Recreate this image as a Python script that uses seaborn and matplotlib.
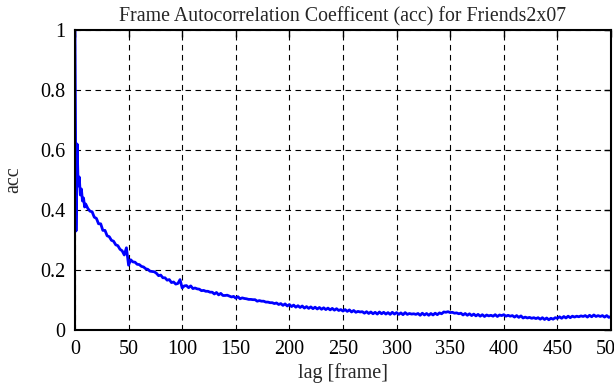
import matplotlib
matplotlib.use("Agg")
import matplotlib.pyplot as plt
import seaborn as sns
import pandas as pd

# lag in frames: every frame up to 10, then every second frame
lag = list(range(0, 11)) + list(range(12, 501, 2))

# autocorrelation values
acc_head = [1.0, 0.33, 0.62, 0.48, 0.51, 0.45, 0.47, 0.43, 0.44, 0.41, 0.42]
acc_tail = [
    0.405, 0.396, 0.394, 0.376, 0.372, 0.354, 0.354, 0.332, 0.332, 0.314,
    0.311, 0.299, 0.296, 0.284, 0.281, 0.269, 0.264, 0.250, 0.274, 0.216,
    0.234, 0.227, 0.226, 0.219, 0.218, 0.212, 0.210, 0.204, 0.202, 0.196,
    0.195, 0.194, 0.189, 0.181, 0.183, 0.174, 0.174, 0.166, 0.168, 0.158,
    0.160, 0.153, 0.155, 0.168, 0.140, 0.147, 0.148, 0.141, 0.147, 0.138,
    0.140, 0.137, 0.136, 0.131, 0.132, 0.129, 0.129, 0.126, 0.126, 0.120,
    0.125, 0.117, 0.122, 0.115, 0.115, 0.116, 0.113, 0.110, 0.112, 0.106,
    0.111, 0.104, 0.107, 0.105, 0.104, 0.102, 0.102, 0.101, 0.101, 0.096,
    0.098, 0.096, 0.096, 0.093, 0.093, 0.091, 0.091, 0.088, 0.090, 0.085,
    0.088, 0.082, 0.087, 0.080, 0.085, 0.078, 0.083, 0.076, 0.081, 0.075,
    0.080, 0.073, 0.078, 0.072, 0.077, 0.071, 0.076, 0.070, 0.075, 0.069,
    0.074, 0.068, 0.073, 0.067, 0.072, 0.066, 0.071, 0.065, 0.068, 0.063,
    0.068, 0.062, 0.067, 0.060, 0.065, 0.059, 0.062, 0.060, 0.061, 0.056,
    0.061, 0.055, 0.060, 0.054, 0.059, 0.053, 0.060, 0.054, 0.059, 0.053,
    0.058, 0.052, 0.059, 0.053, 0.058, 0.052, 0.057, 0.051, 0.058, 0.052,
    0.055, 0.053, 0.054, 0.052, 0.055, 0.049, 0.056, 0.050, 0.055, 0.049,
    0.055, 0.050, 0.056, 0.051, 0.057, 0.054, 0.060, 0.059, 0.061, 0.058,
    0.059, 0.056, 0.057, 0.054, 0.056, 0.050, 0.055, 0.049, 0.054, 0.048,
    0.053, 0.047, 0.052, 0.046, 0.051, 0.045, 0.050, 0.047, 0.049, 0.046,
    0.051, 0.045, 0.050, 0.048, 0.051, 0.046, 0.049, 0.046, 0.048, 0.043,
    0.048, 0.042, 0.047, 0.040, 0.043, 0.040, 0.042, 0.039, 0.041, 0.038,
    0.041, 0.036, 0.041, 0.035, 0.040, 0.034, 0.039, 0.036, 0.041, 0.039,
    0.044, 0.039, 0.045, 0.040, 0.046, 0.041, 0.046, 0.043, 0.046, 0.044,
    0.047, 0.045, 0.048, 0.043, 0.049, 0.044, 0.050, 0.045, 0.048, 0.045,
    0.048, 0.043, 0.048, 0.042, 0.045,
]
acc = acc_head + acc_tail

x_ticks = [0, 50, 100, 150, 200, 250, 300, 350, 400, 450, 500]
y_ticks = [0, 0.2, 0.4, 0.6, 0.8, 1]
y_labels = ["0", "0.2", "0.4", "0.6", "0.8", "1"]

df = pd.DataFrame({"lag": lag, "acc": acc})

sns.set_theme(style="white")
plt.rcParams["font.family"] = ["Liberation Serif", "DejaVu Serif"]

fig = plt.figure(figsize=(6.14, 3.85), dpi=100)
ax = fig.add_axes([0.1221, 0.1429, 0.8730, 0.7792])

sns.lineplot(data=df, x="lag", y="acc", color="#0000ff", linewidth=2.0,
             estimator=None, ax=ax)

ax.set_xlim(0, 500)
ax.set_ylim(0, 1)
ax.set_xticks(x_ticks)
ax.set_yticks(y_ticks)
ax.set_yticklabels(y_labels)
ax.grid(True, color="black", linestyle=(0, (5, 4)), linewidth=0.8)
ax.tick_params(direction="in", length=5, width=1, top=True, right=True,
               labelsize=14.5, colors="black", pad=7)
for s in ax.spines.values():
    s.set_color("black")
    s.set_linewidth(1.5)

ax.set_title("Frame Autocorrelation Coefficent (acc) for Friends2x07",
             fontsize=14.3, pad=6)
ax.set_xlabel("lag [frame]", fontsize=14.5, labelpad=3)
ax.set_ylabel("acc", fontsize=14.5, labelpad=12)

fig.savefig("out.png", dpi=100)
